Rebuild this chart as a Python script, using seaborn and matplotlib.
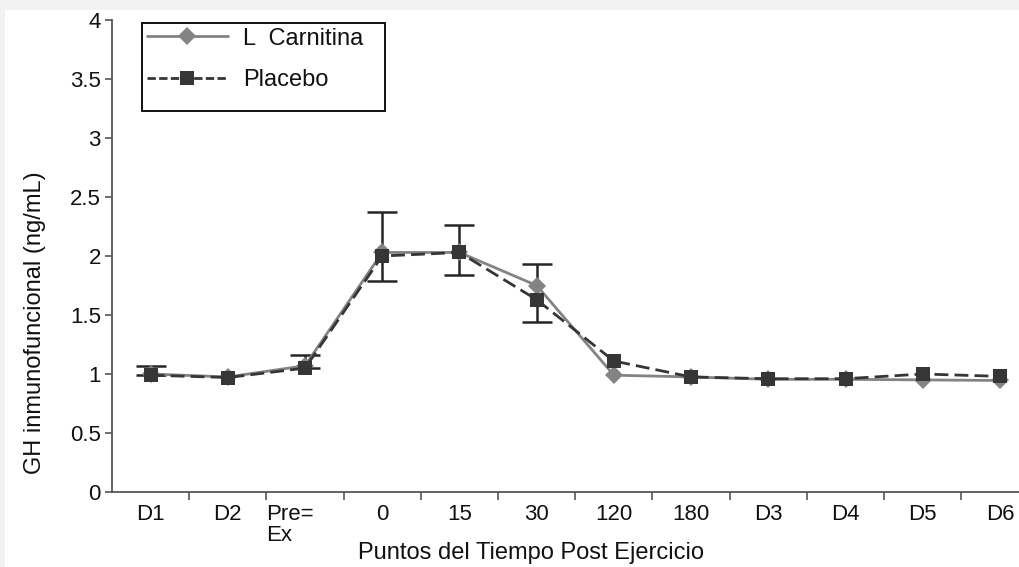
import numpy as np
import pandas as pd
import matplotlib
matplotlib.use("Agg")
import matplotlib.pyplot as plt
import matplotlib.transforms as mtransforms
from matplotlib.patches import Rectangle
from matplotlib.lines import Line2D
import seaborn as sns

# ---- data ----
categories = ["D1", "D2", "Pre=\nEx", "0", "15", "30", "120", "180", "D3", "D4", "D5", "D6"]
l_carnitina = [1.00, 0.975, 1.07, 2.03, 2.03, 1.75, 0.99, 0.975, 0.955, 0.955, 0.95, 0.945]
placebo = [0.99, 0.97, 1.05, 2.00, 2.03, 1.63, 1.11, 0.975, 0.96, 0.96, 1.00, 0.98]
err_high = [1.07, np.nan, 1.16, 2.37, 2.26, 1.93, np.nan, np.nan, np.nan, np.nan, np.nan, np.nan]
err_low = [0.99, np.nan, 1.05, 1.79, 1.84, 1.44, np.nan, np.nan, np.nan, np.nan, np.nan, np.nan]
series_names = ["L  Carnitina", "Placebo"]
y_ticks = [0, 0.5, 1, 1.5, 2, 2.5, 3, 3.5, 4]
y_tick_labels = ["0", "0.5", "1", "1.5", "2", "2.5", "3", "3.5", "4"]
x_label = "Puntos del Tiempo Post Ejercicio"
y_label = "GH inmunofuncional (ng/mL)"

sns.set_theme(style="white")
plt.rcParams["font.family"] = ["Liberation Sans", "DejaVu Sans"]
FS_TICK = 16
FS = 17

W, H = 1020, 567
fig = plt.figure(figsize=(W / 100, H / 100), dpi=100, facecolor="#f2f2f2")
fig.patches.append(Rectangle((5 / W, 0), 1 - 5 / W, (H - 10) / H, transform=fig.transFigure,
                             facecolor="white", edgecolor="none", zorder=-10))

ax_left, ax_top, ax_bottom = 112, 20, 492
ax = fig.add_axes([ax_left / W, (H - ax_bottom) / H, (W - ax_left) / W, (ax_bottom - ax_top) / H])
ax.set_facecolor("none")

idx = np.arange(len(categories))
df = pd.DataFrame({
    "x": np.concatenate([idx, idx]),
    "y": np.concatenate([l_carnitina, placebo]),
    "serie": [series_names[0]] * len(idx) + [series_names[1]] * len(idx),
})

palette = {series_names[0]: "#838383", series_names[1]: "#363636"}
markers = {series_names[0]: "D", series_names[1]: "s"}
dashes = {series_names[0]: "", series_names[1]: (5, 2.2)}

# error bars (placebo)
ph = np.array(placebo)
yerr = np.vstack([ph - np.array(err_low), np.array(err_high) - ph])
ax.errorbar(idx, ph, yerr=yerr, fmt="none", ecolor="#262626", elinewidth=1.8,
            capsize=11, capthick=1.8, zorder=2)

sns.lineplot(data=df, x="x", y="y", hue="serie", style="serie", palette=palette,
             markers=markers, dashes=dashes, linewidth=2.0, markersize=10,
             markeredgewidth=0, ax=ax, legend=False, zorder=3)
for ln in ax.lines:
    if ln.get_marker() == "D":
        ln.set_markersize(9)

ax.set_xlim(-0.5, 11.26)
ax.set_ylim(0, 4)

for s in ["top", "right"]:
    ax.spines[s].set_visible(False)
for s in ["left", "bottom"]:
    ax.spines[s].set_color("#555555")
    ax.spines[s].set_linewidth(1.3)

ax.set_yticks(y_ticks, y_tick_labels)
ax.tick_params(axis="y", direction="out", length=5, width=1.2, color="#555555",
               labelsize=FS_TICK, labelcolor="#111111", pad=3, left=True)
ax.set_xticks(idx, categories)
ax.set_xticks(np.arange(0.5, 11, 1), minor=True)
ax.tick_params(axis="x", which="major", length=0, labelsize=FS_TICK, labelcolor="#111111", pad=8.5)
ax.tick_params(axis="x", which="minor", direction="out", length=6, width=1.2, color="#555555", bottom=True)

# "Pre=/Ex" label is left aligned starting at the tick mark
lbl = ax.get_xticklabels()[2]
lbl.set_ha("left")
lbl.set_multialignment("left")
lbl.set_linespacing(1.0)
lbl.set_transform(lbl.get_transform() + mtransforms.ScaledTranslation(-0.385, 0, fig.dpi_scale_trans))

ax.set_xlabel(x_label, fontsize=FS, color="#111111")
ax.xaxis.set_label_coords((531 - ax_left) / (W - ax_left), -(553 - ax_bottom) / (ax_bottom - ax_top))
ax.xaxis.label.set_va("center")
ax.set_ylabel(y_label, fontsize=FS, color="#111111")
ax.yaxis.set_label_coords((35 - ax_left) / (W - ax_left), (ax_bottom - 323) / (ax_bottom - ax_top))
ax.yaxis.label.set_va("center")

# legend
handles = [
    Line2D([], [], color=palette[series_names[0]], lw=2.0, marker="D", markersize=9, markeredgewidth=0),
    Line2D([], [], color=palette[series_names[1]], lw=2.0, marker="s", markersize=10,
           markeredgewidth=0, dashes=(3, 1.2)),
]
leg = ax.legend(handles, series_names, loc="upper left", frameon=False, fontsize=FS,
                bbox_to_anchor=((142 - ax_left) / (W - ax_left), (ax_bottom - 23) / (ax_bottom - ax_top)),
                borderaxespad=0, borderpad=0.2, handlelength=3.45, handletextpad=0.62,
                labelspacing=0.82)
for t in leg.get_texts():
    t.set_color("#111111")
box = Rectangle((142 / W, 1 - 111 / H), (385 - 142) / W, (111 - 23) / H, transform=fig.transFigure,
                facecolor="none", edgecolor="#111111", linewidth=1.4, zorder=5)
fig.patches.append(box)

fig.savefig("out.png", dpi=100, facecolor=fig.get_facecolor())
